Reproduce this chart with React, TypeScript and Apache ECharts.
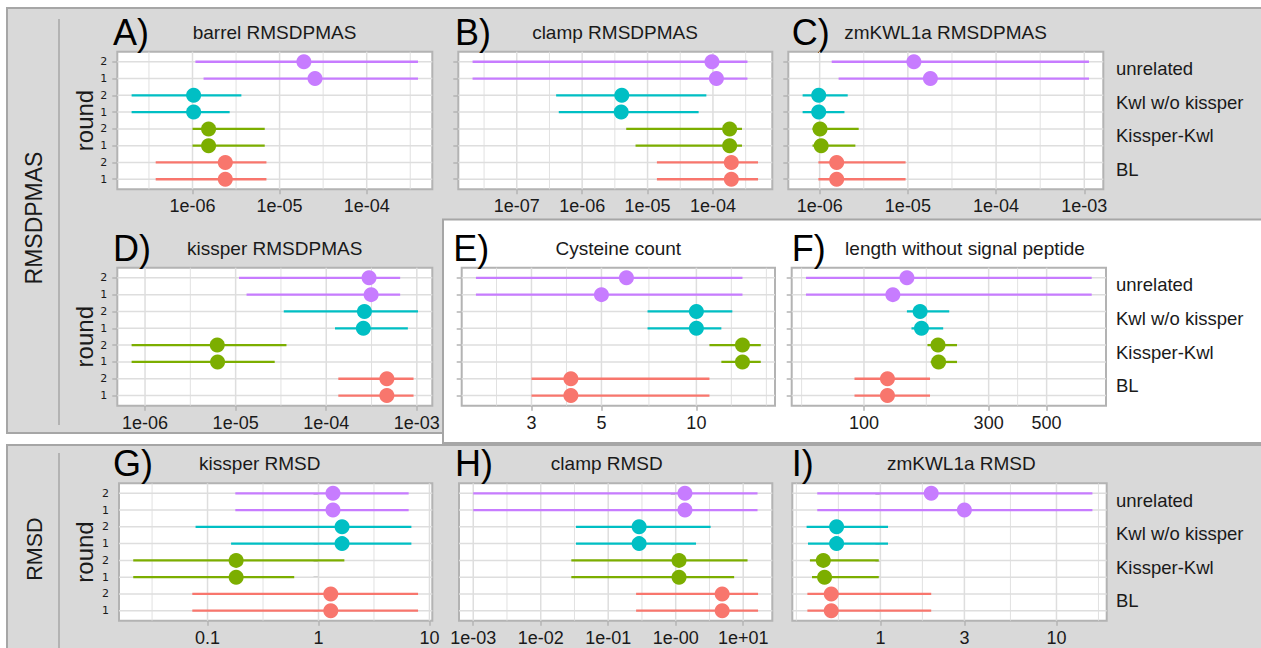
import React, { useEffect, useRef } from "react";
import * as echarts from "echarts";

// ---------------- data ----------------
const groups = ["BL", "Kissper-Kwl", "Kwl w/o kissper", "unrelated"];
const rounds = ["1", "2"];
const groupColors = ["#F8766D", "#7CAE00", "#00BFC4", "#C77CFF"];
// rows bottom -> top: BL r1, BL r2, Kissper-Kwl r1, r2, Kwl w/o kissper r1, r2, unrelated r1, r2

const barrelLo = [3.78e-7, 3.78e-7, 1.0e-6, 1.0e-6, 2.0e-7, 2.0e-7, 1.34e-6, 1.08e-6];
const barrelEst = [2.38e-6, 2.38e-6, 1.53e-6, 1.53e-6, 1.03e-6, 1.03e-6, 2.55e-5, 1.9e-5];
const barrelHi = [7.06e-6, 7.06e-6, 6.75e-6, 6.75e-6, 2.67e-6, 3.64e-6, 3.88e-4, 3.88e-4];

const clampLo = [1.39e-5, 1.39e-5, 6.55e-6, 4.72e-6, 4.39e-7, 4.0e-7, 2.11e-8, 2.11e-8];
const clampEst = [1.91e-4, 1.91e-4, 1.8e-4, 1.8e-4, 3.95e-6, 4.04e-6, 1.13e-4, 9.66e-5];
const clampHi = [4.89e-4, 4.89e-4, 2.78e-4, 2.78e-4, 6.04e-5, 7.93e-5, 3.37e-4, 3.37e-4];

const zmLo = [9.67e-7, 9.67e-7, 8.3e-7, 8.3e-7, 6.41e-7, 6.41e-7, 1.64e-6, 1.37e-6];
const zmEst = [1.56e-6, 1.56e-6, 1.04e-6, 1.01e-6, 9.75e-7, 9.75e-7, 1.8e-5, 1.17e-5];
const zmHi = [9.42e-6, 9.42e-6, 2.54e-6, 2.77e-6, 1.91e-6, 2.08e-6, 1.13e-3, 1.13e-3];

const kissLo = [1.36e-4, 1.36e-4, 7.11e-7, 7.11e-7, 1.25e-4, 3.4e-5, 1.32e-5, 1.09e-5];
const kissEst = [4.67e-4, 4.67e-4, 6.32e-6, 6.27e-6, 2.57e-4, 2.64e-4, 3.13e-4, 2.97e-4];
const kissHi = [9.2e-4, 9.2e-4, 2.7e-5, 3.64e-5, 7.96e-4, 1.03e-3, 6.55e-4, 6.55e-4];

const cysLo = [3, 3, 12, 11, 7, 7, 2, 2];
const cysEst = [4, 4, 14, 14, 10, 10, 5, 6];
const cysHi = [11, 11, 16, 16, 12, 13, 14, 14];

const lenLo = [92, 92, 180, 175, 152, 146, 60, 60];
const lenEst = [123, 123, 193, 192, 166, 164, 129, 146];
const lenHi = [179, 179, 227, 227, 201, 212, 744, 744];

const kissRmsdLo = [0.0729, 0.0729, 0.0214, 0.0214, 0.163, 0.078, 0.178, 0.178];
const kissRmsdEst = [1.29, 1.29, 0.181, 0.181, 1.63, 1.63, 1.35, 1.35];
const kissRmsdHi = [7.89, 7.89, 0.604, 1.71, 6.87, 6.87, 6.49, 6.49];

const clampRmsdLo = [0.259, 0.259, 0.0284, 0.0284, 0.0333, 0.0333, 0.001, 0.001];
const clampRmsdEst = [4.88, 4.88, 1.12, 1.12, 0.287, 0.287, 1.37, 1.37];
const clampRmsdHi = [16.6, 16.6, 7.34, 11.6, 2.0, 3.29, 16.3, 16.3];

const zmRmsdLo = [0.385, 0.385, 0.409, 0.398, 0.388, 0.381, 0.438, 0.438];
const zmRmsdEst = [0.526, 0.526, 0.482, 0.474, 0.564, 0.564, 3.0, 1.944];
const zmRmsdHi = [1.944, 1.944, 0.979, 0.979, 1.105, 1.105, 16.0, 16.0];

const ticksA = [1e-6, 1e-5, 1e-4];
const ticksALabels = ["1e-06", "1e-05", "1e-04"];
const ticksB = [1e-7, 1e-6, 1e-5, 1e-4];
const ticksBLabels = ["1e-07", "1e-06", "1e-05", "1e-04"];
const ticksC = [1e-6, 1e-5, 1e-4, 1e-3];
const ticksCLabels = ["1e-06", "1e-05", "1e-04", "1e-03"];
const ticksE = [3, 5, 10];
const ticksELabels = ["3", "5", "10"];
const ticksF = [100, 300, 500];
const ticksFLabels = ["100", "300", "500"];
const ticksG = [0.1, 1, 10];
const ticksGLabels = ["0.1", "1", "10"];
const ticksH = [1e-3, 1e-2, 1e-1, 1, 10];
const ticksHLabels = ["1e-03", "1e-02", "1e-01", "1e-00", "1e+01"];
const ticksI = [1, 3, 10];
const ticksILabels = ["1", "3", "10"];

const panels = [
  { letter: "A)", title: "barrel RMSDPMAS", lo: barrelLo, est: barrelEst, hi: barrelHi, ticks: ticksA, labels: ticksALabels },
  { letter: "B)", title: "clamp RMSDPMAS", lo: clampLo, est: clampEst, hi: clampHi, ticks: ticksB, labels: ticksBLabels },
  { letter: "C)", title: "zmKWL1a RMSDPMAS", lo: zmLo, est: zmEst, hi: zmHi, ticks: ticksC, labels: ticksCLabels },
  { letter: "D)", title: "kissper RMSDPMAS", lo: kissLo, est: kissEst, hi: kissHi, ticks: ticksC, labels: ticksCLabels },
  { letter: "E)", title: "Cysteine count", lo: cysLo, est: cysEst, hi: cysHi, ticks: ticksE, labels: ticksELabels },
  { letter: "F)", title: "length without signal peptide", lo: lenLo, est: lenEst, hi: lenHi, ticks: ticksF, labels: ticksFLabels },
  { letter: "G)", title: "kissper RMSD", lo: kissRmsdLo, est: kissRmsdEst, hi: kissRmsdHi, ticks: ticksG, labels: ticksGLabels },
  { letter: "H)", title: "clamp RMSD", lo: clampRmsdLo, est: clampRmsdEst, hi: clampRmsdHi, ticks: ticksH, labels: ticksHLabels },
  { letter: "I)", title: "zmKWL1a RMSD", lo: zmRmsdLo, est: zmRmsdEst, hi: zmRmsdHi, ticks: ticksI, labels: ticksILabels },
];

// ---------------- layout ----------------
const layout = [
  { left: 117.3, top: 51.7, width: 315, height: 137.6, letterX: 113, titleX: 274.5, round: true, legend: false },
  { left: 458.3, top: 51.7, width: 314, height: 137.6, letterX: 455, titleX: 615, round: false, legend: false },
  { left: 788.3, top: 51.7, width: 315, height: 137.6, letterX: 791.7, titleX: 945.5, round: false, legend: true },
  { left: 117.3, top: 267.7, width: 315, height: 138, letterX: 113, titleX: 274.7, round: true, legend: false },
  { left: 461.7, top: 267.7, width: 313.3, height: 138, letterX: 453.3, titleX: 618.3, round: false, legend: false },
  { left: 791.7, top: 267.7, width: 314.3, height: 138, letterX: 791.7, titleX: 965, round: false, legend: true },
  { left: 119, top: 483.3, width: 313.3, height: 137.4, letterX: 113, titleX: 259.8, round: true, legend: false },
  { left: 459, top: 483.3, width: 313.3, height: 137.4, letterX: 455, titleX: 606.8, round: false, legend: false },
  { left: 792.3, top: 483.3, width: 314.4, height: 137.4, letterX: 791.7, titleX: 961.3, round: false, legend: true },
];

const FONT = "'Liberation Sans', Arial, Helvetica, sans-serif";
const Y_MIN = 0.4;
const Y_MAX = 8.6;
const ROWS = [1, 2, 3, 4, 5, 6, 7, 8];

function logLimits(lo: number[], hi: number[]): [number, number] {
  const a = Math.min(...lo.map(Math.log10));
  const b = Math.max(...hi.map(Math.log10));
  const e = (b - a) * 0.05;
  return [a - e, b + e];
}

function minorBreaks(majors: number[], lim: [number, number]) {
  const b = majors.filter((v) => v >= lim[0] && v <= lim[1]);
  if (b.length < 2) return [];
  const bd = b[1] - b[0];
  const ext = [...b];
  if (lim[0] < b[0]) ext.unshift(b[0] - bd);
  if (lim[1] > b[b.length - 1]) ext.push(b[b.length - 1] + bd);
  const out: number[] = [];
  for (let i = 0; i < ext.length - 1; i++) out.push(ext[i], (ext[i] + ext[i + 1]) / 2);
  out.push(ext[ext.length - 1]);
  return out.filter((v) => v >= lim[0] && v <= lim[1] && !majors.some((m) => Math.abs(m - v) < 1e-9));
}

function buildOption() {
  const grids: any[] = [];
  const xAxes: any[] = [];
  const yAxes: any[] = [];
  const series: any[] = [];
  const graphics: any[] = [];

  // backgrounds
  graphics.push(
    { type: "rect", z: -100, shape: { x: 7, y: 8, width: 1262, height: 425 }, style: { fill: "#d9d9d9", stroke: "#a6a6a6", lineWidth: 2 } },
    { type: "rect", z: -99, shape: { x: 443, y: 219.5, width: 830, height: 223.5 }, style: { fill: "#ffffff", stroke: "#a6a6a6", lineWidth: 2 } },
    { type: "rect", z: -98, shape: { x: 7, y: 445, width: 1262, height: 220 }, style: { fill: "#d9d9d9", stroke: "#a6a6a6", lineWidth: 2 } },
    { type: "line", z: -97, shape: { x1: 59, y1: 19, x2: 59, y2: 425 }, style: { stroke: "#a6a6a6", lineWidth: 1.5 } },
    { type: "line", z: -97, shape: { x1: 59, y1: 453, x2: 59, y2: 660 }, style: { stroke: "#a6a6a6", lineWidth: 1.5 } },
    { type: "text", x: 34, y: 218, rotation: Math.PI / 2, style: { text: "RMSDPMAS", fontSize: 23, fontFamily: FONT, fill: "#1a1a1a", textAlign: "center", textVerticalAlign: "middle" } },
    { type: "text", x: 34.5, y: 549, rotation: Math.PI / 2, style: { text: "RMSD", fontSize: 21.5, fontFamily: FONT, fill: "#1a1a1a", textAlign: "center", textVerticalAlign: "middle" } }
  );

  panels.forEach((p, i) => {
    const L = layout[i];
    const lim = logLimits(p.lo, p.hi);
    const majors = p.ticks.map(Math.log10);
    const minors = minorBreaks(majors, lim);
    const labelFor = (v: number) => {
      let best = 0;
      majors.forEach((m, k) => {
        if (Math.abs(m - v) < Math.abs(majors[best] - v)) best = k;
      });
      return p.labels[best];
    };

    grids.push({
      left: L.left, top: L.top, width: L.width, height: L.height,
      show: true, backgroundColor: "#ffffff", borderColor: "#b3b3b3", borderWidth: 2,
    });
    xAxes.push({
      gridIndex: i, type: "value", min: lim[0], max: lim[1],
      axisLine: { show: false }, splitLine: { show: false },
      axisTick: { show: true, customValues: majors, length: 5, lineStyle: { color: "#b3b3b3", width: 1.5 } },
      axisLabel: { show: true, customValues: majors, formatter: labelFor, fontSize: 18, fontFamily: FONT, color: "#1a1a1a", margin: 8 },
    });
    yAxes.push({
      gridIndex: i, type: "value", min: Y_MIN, max: Y_MAX,
      axisLine: { show: false }, splitLine: { show: false },
      axisTick: { show: true, customValues: ROWS, length: 5, lineStyle: { color: "#b3b3b3", width: 1.5 } },
      axisLabel: {
        show: L.round, customValues: ROWS,
        formatter: (v: number) => rounds[(Math.round(v) - 1) % 2],
        fontSize: 11, fontFamily: "DejaVu Sans", color: "#1a1a1a", margin: 10,
      },
    });

    const gridData: any[] = [];
    minors.forEach((v) => gridData.push([v, 1]));
    majors.filter((v) => v >= lim[0] && v <= lim[1]).forEach((v) => gridData.push([v, 0]));
    ROWS.forEach((r) => gridData.push([r, 2]));
    series.push({
      type: "custom", xAxisIndex: i, yAxisIndex: i, silent: true, z: 1,
      data: gridData,
      renderItem: (params: any, api: any) => {
        const cs = params.coordSys;
        const v = api.value(0);
        const kind = api.value(1);
        if (kind === 2) {
          const y = api.coord([lim[0], v])[1];
          return { type: "line", shape: { x1: cs.x, y1: y, x2: cs.x + cs.width, y2: y }, style: { stroke: "#dedede", lineWidth: 1.5 } };
        }
        const x = api.coord([v, Y_MIN])[0];
        return {
          type: "line",
          shape: { x1: x, y1: cs.y, x2: x, y2: cs.y + cs.height },
          style: { stroke: "#dedede", lineWidth: kind === 0 ? 1.5 : 0.9 },
        };
      },
    });

    const data = p.est.map((e, k) => [
      Math.log10(p.lo[k]), Math.log10(e), Math.log10(p.hi[k]), ROWS[k], Math.floor(k / 2),
    ]);
    series.push({
      type: "custom", xAxisIndex: i, yAxisIndex: i, z: 3, clip: false,
      encode: { x: [0, 1, 2], y: 3 },
      data,
      renderItem: (params: any, api: any) => {
        const y = api.value(3);
        const a = api.coord([api.value(0), y]);
        const b = api.coord([api.value(2), y]);
        const c = api.coord([api.value(1), y]);
        const color = groupColors[api.value(4)];
        return {
          type: "group",
          children: [
            { type: "line", shape: { x1: a[0], y1: a[1], x2: b[0], y2: b[1] }, style: { stroke: color, lineWidth: 2.3 } },
            { type: "circle", shape: { cx: c[0], cy: c[1], r: 7.5 }, style: { fill: color } },
          ],
        };
      },
    });

    const headY = L.top - 19.5;
    graphics.push(
      { type: "text", x: L.letterX, y: headY, style: { text: p.letter, fontSize: 36, fontFamily: FONT, fill: "#000", textAlign: "left", textVerticalAlign: "middle" } },
      { type: "text", x: L.titleX, y: headY, style: { text: p.title, fontSize: 19, fontFamily: FONT, fill: "#1a1a1a", textAlign: "center", textVerticalAlign: "middle" } }
    );
    if (L.round) {
      graphics.push({
        type: "text", x: 84, y: L.top + L.height / 2, rotation: Math.PI / 2,
        style: { text: "round", fontSize: 24, fontFamily: FONT, fill: "#1a1a1a", textAlign: "center", textVerticalAlign: "middle" },
      });
    }
    if (L.legend) {
      groups.forEach((g, k) => {
        const r = 2 * k + 1.5;
        graphics.push({
          type: "text", x: 1116, y: L.top + (L.height * (Y_MAX - r)) / (Y_MAX - Y_MIN) - 1.5,
          style: { text: g, fontSize: 18.5, fontFamily: FONT, fill: "#1a1a1a", textAlign: "left", textVerticalAlign: "middle" },
        });
      });
    }
  });

  return {
    animation: false,
    backgroundColor: "#ffffff",
    grid: grids,
    xAxis: xAxes,
    yAxis: yAxes,
    series,
    graphic: { elements: graphics },
  };
}

export default function App() {
  const ref = useRef<HTMLDivElement>(null);
  useEffect(() => {
    document.body.style.margin = "0";
    document.body.style.overflow = "hidden";
    if (!ref.current) return;
    const chart = echarts.init(ref.current, undefined, { renderer: "svg" });
    chart.setOption(buildOption() as any);
    return () => chart.dispose();
  }, []);
  return <div ref={ref} style={{ width: 1261, height: 648 }} />;
}
